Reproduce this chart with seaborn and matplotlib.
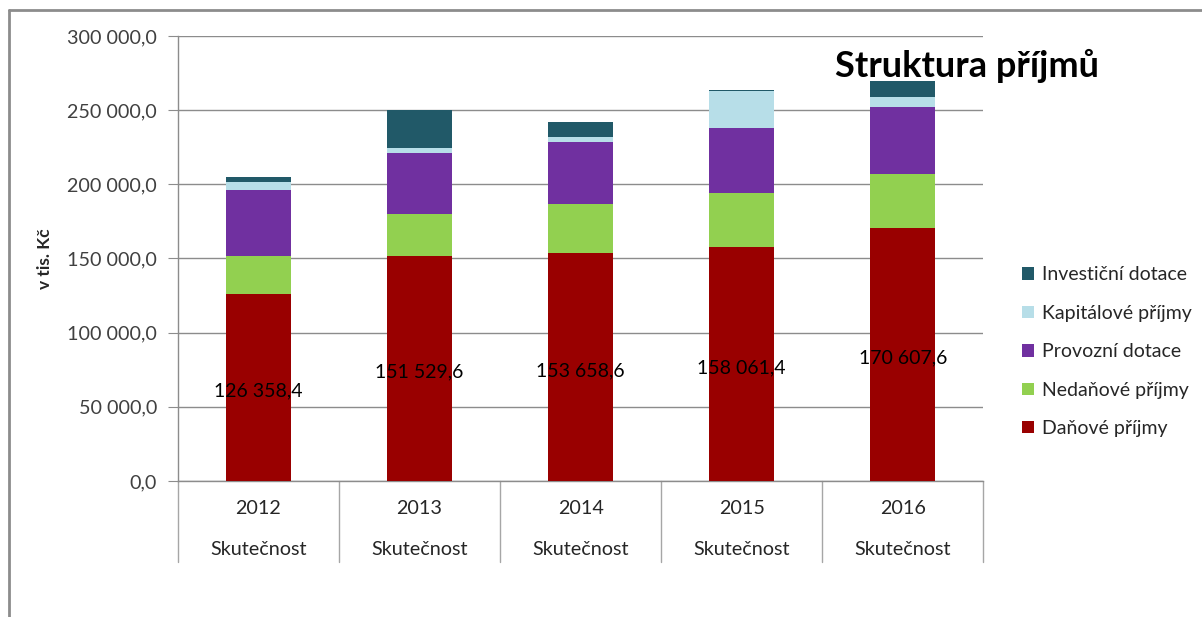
import pandas as pd
import matplotlib.pyplot as plt
import seaborn as sns
from matplotlib.lines import Line2D
from matplotlib.patches import Patch
from matplotlib.ticker import FuncFormatter, MultipleLocator


years = ["2012", "2013", "2014", "2015", "2016"]
row_label = ["Skutečnost"] * 5

# values in thousands CZK, bottom layer first
danove = [126358.4, 151529.6, 153658.6, 158061.4, 170607.6]
nedanove = [25500, 28500, 32800, 35800, 36600]
provozni = [44300, 40900, 41800, 43800, 45200]
kapitalove = [5700, 3400, 3900, 25100, 6400]
investicni = [3400, 25500, 10000, 700, 10600]

series_names = ["Daňové příjmy", "Nedaňové příjmy", "Provozní dotace",
                "Kapitálové příjmy", "Investiční dotace"]
series_colors = ["#990000", "#92D050", "#7030A0", "#B7DEE8", "#215968"]


def fmt_cz(v, pos=None):
    return f"{v:,.1f}".replace(",", " ").replace(".", ",")


df = pd.DataFrame({
    "year": years,
    series_names[0]: danove,
    series_names[1]: nedanove,
    series_names[2]: provozni,
    series_names[3]: kapitalove,
    series_names[4]: investicni,
})
cum = df[series_names].cumsum(axis=1)
cum["year"] = df["year"]

sns.set_style("white")
plt.rcParams["font.family"] = ["Lato", "DejaVu Sans"]

fig = plt.figure(figsize=(12.02, 6.17), dpi=100)
ax = fig.add_axes([0.148, 0.2204, 0.67, 0.7213])

# draw cumulative totals from the top layer down so they stack
for name, color in reversed(list(zip(series_names, series_colors))):
    sns.barplot(data=cum, x="year", y=name, color=color, width=0.4,
                saturation=1, ax=ax, edgecolor="none", zorder=3)

ax.set_ylim(0, 300000)
ax.set_xlim(-0.5, 4.5)
ax.yaxis.set_major_locator(MultipleLocator(50000))
ax.yaxis.set_major_formatter(FuncFormatter(fmt_cz))
ax.grid(axis="y", color="#8c8c8c", linewidth=1, zorder=0)
ax.set_axisbelow(True)
ax.tick_params(axis="y", length=7, color="#8c8c8c", labelsize=14.2,
               labelcolor="#404040", pad=8, left=True)
ax.tick_params(axis="x", length=0, labelbottom=False)
ax.set_xlabel("")
ax.set_ylabel("v tis. Kč", fontsize=12.5, fontweight="bold", labelpad=10)

for side in ["top", "right"]:
    ax.spines[side].set_visible(False)
for side in ["left", "bottom"]:
    ax.spines[side].set_color("#8c8c8c")
    ax.spines[side].set_linewidth(1)

# category boxes below the axis
trans = ax.get_xaxis_transform()
for i in range(len(years) + 1):
    ax.plot([i - 0.5, i - 0.5], [0, -0.182], transform=trans, color="#a6a6a6",
            linewidth=1, clip_on=False)
for i, (yr, lab) in enumerate(zip(years, row_label)):
    ax.text(i, -0.061, yr, transform=trans, ha="center", va="center",
            fontsize=14.2, color="#262626")
    ax.text(i, -0.155, lab, transform=trans, ha="center", va="center",
            fontsize=14.2, color="#262626")

# data labels on the bottom layer
for i, v in enumerate(danove):
    ax.text(i, v / 2 - 2500, fmt_cz(v), ha="center", va="center",
            fontsize=14, color="black", zorder=5)

handles = [Patch(facecolor=c, edgecolor="none") for c in reversed(series_colors)]
fig.legend(handles, list(reversed(series_names)), loc="center left",
           bbox_to_anchor=(0.836, 0.43), frameon=False, fontsize=14,
           handlelength=0.6, handleheight=0.6, handletextpad=0.4,
           labelspacing=1.1)

fig.text(0.695, 0.893, "Struktura příjmů", fontsize=26, fontweight="bold",
         ha="left", va="center", color="black")

# outer chart frame (top and left edges visible)
fig.add_artist(Line2D([0.0075, 1.0], [0.983, 0.983], color="#8c8c8c",
                      linewidth=2, transform=fig.transFigure))
fig.add_artist(Line2D([0.0075, 0.0075], [0.0, 0.983], color="#8c8c8c",
                      linewidth=2, transform=fig.transFigure))

fig.savefig("out.png", dpi=100)
